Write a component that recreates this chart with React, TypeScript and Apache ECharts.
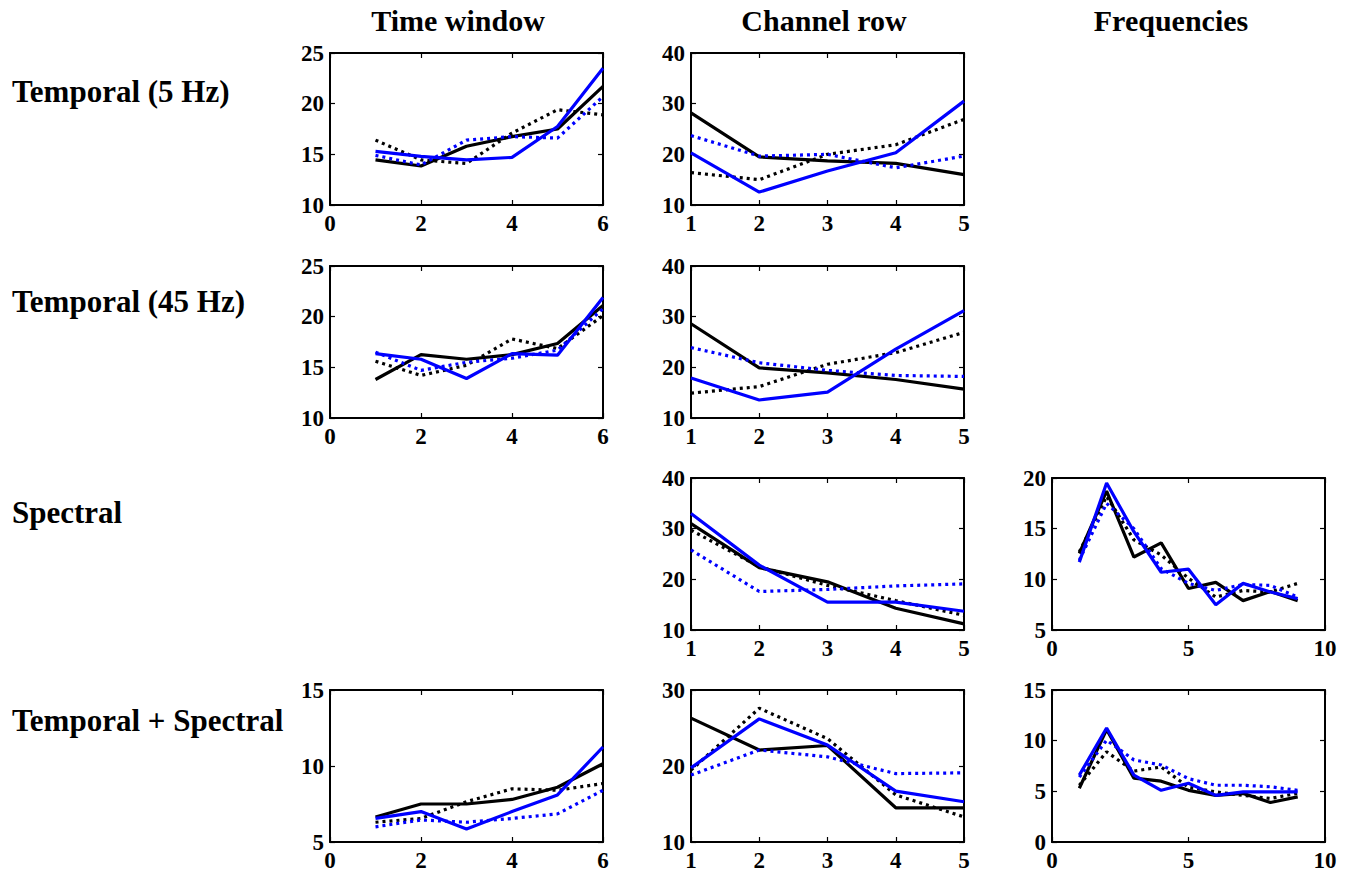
import React, { useEffect, useRef } from "react";
import * as echarts from "echarts";

// ---------- categories / x values ----------
const timeWindowX = [1, 2, 3, 4, 5, 6];
const channelRowX = [1, 2, 3, 4, 5];
const frequencyX = [1, 2, 3, 4, 5, 6, 7, 8, 9];

const columnTitles = ["Time window", "Channel row", "Frequencies"];
const rowTitles = ["Temporal (5 Hz)", "Temporal (45 Hz)", "Spectral", "Temporal + Spectral"];

// ---------- Temporal (5 Hz) ----------
const t5TimeBlackSolid = [14.45, 13.85, 15.8, 16.75, 17.5, 21.7];
const t5TimeBlackDot = [16.4, 14.45, 14.1, 17.1, 19.4, 18.9];
const t5TimeBlueDot = [14.9, 13.95, 16.4, 16.75, 16.6, 20.7];
const t5TimeBlueSolid = [15.3, 14.8, 14.45, 14.7, 17.75, 23.5];

const t5ChanBlackSolid = [28.2, 19.5, 18.7, 18.2, 16.0];
const t5ChanBlackDot = [16.4, 15.0, 20.0, 21.9, 26.9];
const t5ChanBlueDot = [23.7, 19.65, 20.0, 17.35, 19.65];
const t5ChanBlueSolid = [20.3, 12.55, 16.7, 20.3, 30.5];

// ---------- Temporal (45 Hz) ----------
const t45TimeBlackSolid = [13.8, 16.25, 15.8, 16.25, 17.35, 21.1];
const t45TimeBlackDot = [15.6, 14.2, 15.2, 17.8, 16.85, 20.1];
const t45TimeBlueDot = [16.5, 14.7, 15.5, 15.9, 16.7, 20.8];
const t45TimeBlueSolid = [16.35, 15.8, 13.9, 16.35, 16.2, 21.9];

const t45ChanBlackSolid = [28.6, 19.9, 18.9, 17.6, 15.7];
const t45ChanBlackDot = [14.9, 16.2, 20.6, 22.9, 26.9];
const t45ChanBlueDot = [23.9, 20.9, 19.4, 18.4, 18.2];
const t45ChanBlueSolid = [17.9, 13.55, 15.1, 23.6, 31.2];

// ---------- Spectral ----------
const specChanBlackSolid = [31.0, 22.3, 19.5, 14.3, 11.2];
const specChanBlackDot = [29.7, 22.5, 18.8, 15.8, 12.9];
const specChanBlueDot = [25.8, 17.6, 18.0, 18.7, 19.1];
const specChanBlueSolid = [33.0, 22.8, 15.5, 15.5, 13.7];

const specFreqBlackSolid = [12.55, 18.7, 12.2, 13.6, 9.1, 9.7, 7.9, 8.8, 7.9];
const specFreqBlackDot = [12.7, 18.2, 13.9, 12.4, 10.1, 8.25, 8.9, 8.75, 9.6];
const specFreqBlueDot = [11.9, 17.5, 15.0, 11.05, 9.6, 8.9, 9.5, 9.4, 8.25];
const specFreqBlueSolid = [11.7, 19.5, 14.7, 10.7, 11.0, 7.5, 9.6, 8.75, 8.1];

// ---------- Temporal + Spectral ----------
const tsTimeBlackSolid = [6.65, 7.5, 7.5, 7.8, 8.6, 10.15];
const tsTimeBlackDot = [6.3, 6.55, 7.65, 8.5, 8.4, 8.85];
const tsTimeBlueDot = [6.0, 6.45, 6.3, 6.55, 6.85, 8.4];
const tsTimeBlueSolid = [6.55, 7.0, 5.85, 7.0, 8.1, 11.25];

const tsChanBlackSolid = [26.3, 22.1, 22.7, 14.5, 14.5];
const tsChanBlackDot = [19.45, 27.6, 23.6, 16.2, 13.3];
const tsChanBlueDot = [18.8, 22.1, 21.2, 19.0, 19.1];
const tsChanBlueSolid = [19.75, 26.2, 22.75, 16.7, 15.3];

const tsFreqBlackSolid = [5.3, 11.1, 6.3, 6.0, 5.1, 4.6, 4.8, 3.9, 4.45];
const tsFreqBlackDot = [5.6, 8.9, 7.0, 7.4, 5.4, 4.95, 4.6, 4.3, 4.8];
const tsFreqBlueDot = [6.4, 10.05, 8.1, 7.6, 6.25, 5.6, 5.6, 5.45, 5.1];
const tsFreqBlueSolid = [6.6, 11.25, 6.6, 5.1, 5.8, 4.6, 4.95, 4.95, 4.95];

// ---------- axis ranges ----------
const timeXAxis = { min: 0, max: 6, interval: 2 };
const chanXAxis = { min: 1, max: 5, interval: 1 };
const freqXAxis = { min: 0, max: 10, interval: 5 };

const FONT = '"Liberation Serif", "Times New Roman", serif';
const BLUE = "#0000ff";
const BLACK = "#000000";

const lineStyles = [
  { color: BLACK, type: "solid" as any },
  { color: BLACK, type: [3, 4] as any },
  { color: BLUE, type: [3, 4] as any },
  { color: BLUE, type: "solid" as any },
];

const colLeft = [330, 691, 1052];
const rowTop = [53, 266, 478, 690];
const PW = 273;
const PH = 152;

type Panel = {
  row: number;
  col: number;
  x: number[];
  xr: { min: number; max: number; interval: number };
  yr: { min: number; max: number; interval: number };
  lines: number[][];
};

const panels: Panel[] = [
  { row: 0, col: 0, x: timeWindowX, xr: timeXAxis, yr: { min: 10, max: 25, interval: 5 },
    lines: [t5TimeBlackSolid, t5TimeBlackDot, t5TimeBlueDot, t5TimeBlueSolid] },
  { row: 0, col: 1, x: channelRowX, xr: chanXAxis, yr: { min: 10, max: 40, interval: 10 },
    lines: [t5ChanBlackSolid, t5ChanBlackDot, t5ChanBlueDot, t5ChanBlueSolid] },
  { row: 1, col: 0, x: timeWindowX, xr: timeXAxis, yr: { min: 10, max: 25, interval: 5 },
    lines: [t45TimeBlackSolid, t45TimeBlackDot, t45TimeBlueDot, t45TimeBlueSolid] },
  { row: 1, col: 1, x: channelRowX, xr: chanXAxis, yr: { min: 10, max: 40, interval: 10 },
    lines: [t45ChanBlackSolid, t45ChanBlackDot, t45ChanBlueDot, t45ChanBlueSolid] },
  { row: 2, col: 1, x: channelRowX, xr: chanXAxis, yr: { min: 10, max: 40, interval: 10 },
    lines: [specChanBlackSolid, specChanBlackDot, specChanBlueDot, specChanBlueSolid] },
  { row: 2, col: 2, x: frequencyX, xr: freqXAxis, yr: { min: 5, max: 20, interval: 5 },
    lines: [specFreqBlackSolid, specFreqBlackDot, specFreqBlueDot, specFreqBlueSolid] },
  { row: 3, col: 0, x: timeWindowX, xr: timeXAxis, yr: { min: 5, max: 15, interval: 5 },
    lines: [tsTimeBlackSolid, tsTimeBlackDot, tsTimeBlueDot, tsTimeBlueSolid] },
  { row: 3, col: 1, x: channelRowX, xr: chanXAxis, yr: { min: 10, max: 30, interval: 10 },
    lines: [tsChanBlackSolid, tsChanBlackDot, tsChanBlueDot, tsChanBlueSolid] },
  { row: 3, col: 2, x: frequencyX, xr: freqXAxis, yr: { min: 0, max: 15, interval: 5 },
    lines: [tsFreqBlackSolid, tsFreqBlackDot, tsFreqBlueDot, tsFreqBlueSolid] },
];

const titleX = [458, 824, 1171];
const titleY = 20;
const rowLabelY = [91, 301, 512, 720];

function buildOption() {
  const grid: any[] = [];
  const xAxis: any[] = [];
  const yAxis: any[] = [];
  const series: any[] = [];
  const axisLine = { show: true, onZero: false, lineStyle: { color: BLACK, width: 2 } };
  const tick = { show: true, inside: true, length: 5, lineStyle: { color: BLACK, width: 1.2 } };
  const label = {
    show: true,
    color: BLACK,
    fontFamily: FONT,
    fontWeight: "bold",
    fontSize: 23,
    showMinLabel: true,
    showMaxLabel: true,
  };

  panels.forEach((p, i) => {
    grid.push({ left: colLeft[p.col], top: rowTop[p.row], width: PW, height: PH, containLabel: false });
    xAxis.push({
      type: "value", gridIndex: i, position: "bottom", ...p.xr,
      axisLine, axisTick: tick, splitLine: { show: false },
      axisLabel: { ...label, margin: 7 },
    });
    xAxis.push({
      type: "value", gridIndex: i, position: "top", ...p.xr,
      axisLine, axisTick: tick, splitLine: { show: false },
      axisLabel: { show: false },
    });
    yAxis.push({
      type: "value", gridIndex: i, position: "left", ...p.yr,
      axisLine, axisTick: tick, splitLine: { show: false },
      axisLabel: { ...label, margin: 6 },
    });
    yAxis.push({
      type: "value", gridIndex: i, position: "right", ...p.yr,
      axisLine, axisTick: tick, splitLine: { show: false },
      axisLabel: { show: false },
    });
    p.lines.forEach((vals, k) => {
      series.push({
        type: "line",
        xAxisIndex: 2 * i,
        yAxisIndex: 2 * i,
        data: p.x.map((xv, j) => [xv, vals[j]]),
        showSymbol: false,
        symbol: "none",
        silent: true,
        lineStyle: { width: 3.2, color: lineStyles[k].color, type: lineStyles[k].type, cap: "butt" },
        z: 2 + k,
      });
    });
  });

  const graphic: any[] = [];
  columnTitles.forEach((t, i) => {
    graphic.push({
      type: "text", x: titleX[i], y: titleY,
      style: { text: t, font: `bold 30px ${FONT}`, fill: BLACK, textAlign: "center", textVerticalAlign: "middle" },
    });
  });
  rowTitles.forEach((t, i) => {
    graphic.push({
      type: "text", x: 12, y: rowLabelY[i],
      style: { text: t, font: `bold 31px ${FONT}`, fill: BLACK, textAlign: "left", textVerticalAlign: "middle" },
    });
  });

  return {
    animation: false,
    backgroundColor: "#ffffff",
    grid,
    xAxis,
    yAxis,
    series,
    graphic,
  };
}

export default function App() {
  const ref = useRef<HTMLDivElement>(null);
  useEffect(() => {
    if (!ref.current) return;
    const chart = echarts.init(ref.current, null, { renderer: "svg" });
    chart.setOption(buildOption() as any);
    return () => chart.dispose();
  }, []);
  return (
    <div
      ref={ref}
      style={{ position: "fixed", left: 0, top: 0, width: 1353, height: 875, background: "#fff" }}
    />
  );
}
